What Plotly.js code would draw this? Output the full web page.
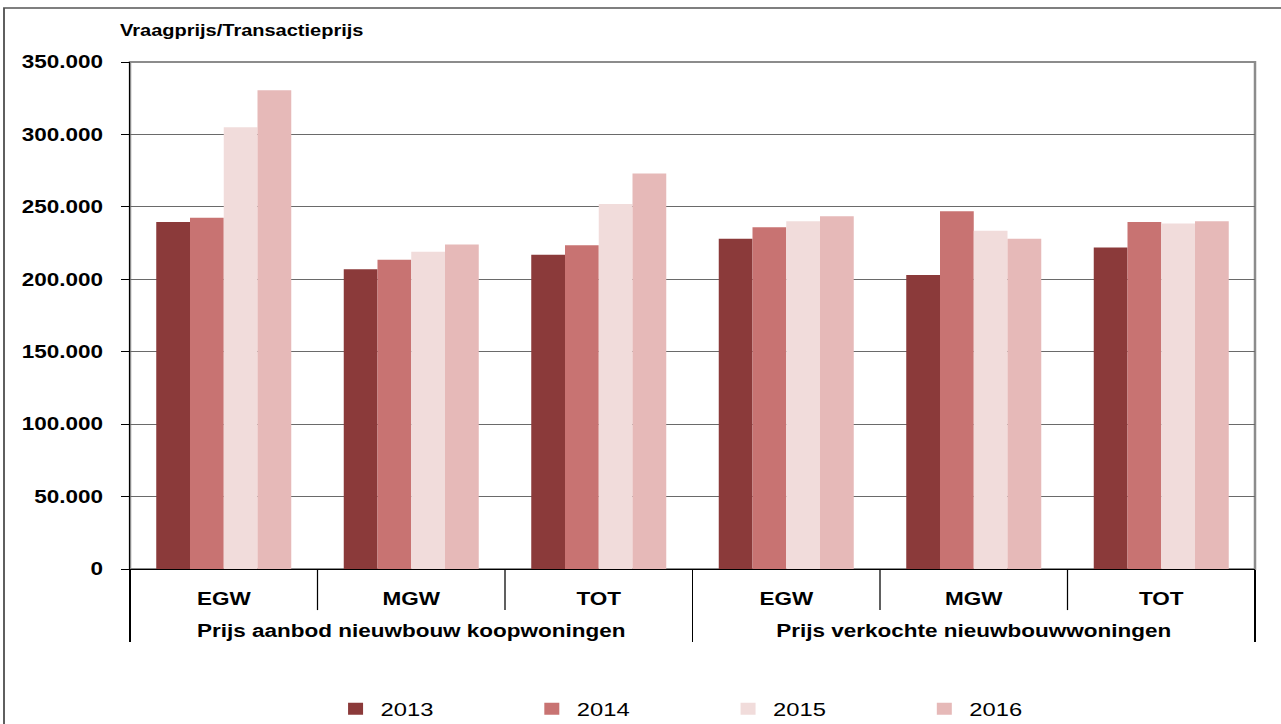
<!DOCTYPE html>
<html>
<head>
<meta charset="utf-8">
<script src="https://cdn.plot.ly/plotly-3.0.1.min.js"></script>
<style>
  html, body { margin: 0; padding: 0; background: #fff; overflow: hidden; }
  #chart { width: 1025px; height: 724px; transform: scaleX(1.25); transform-origin: 0 0; }
</style>
</head>
<body>
<div id="chart"></div>
<script>
// ---- data ----
const groups = [
  "Prijs aanbod nieuwbouw koopwoningen", "Prijs aanbod nieuwbouw koopwoningen", "Prijs aanbod nieuwbouw koopwoningen",
  "Prijs verkochte nieuwbouwwoningen", "Prijs verkochte nieuwbouwwoningen", "Prijs verkochte nieuwbouwwoningen"
];
const types = ["EGW", "MGW", "TOT", "EGW", "MGW", "TOT"];
const years = ["2013", "2014", "2015", "2016"];
const v2013 = [239500, 207000, 217000, 228000, 203000, 222000];
const v2014 = [242500, 213500, 223500, 236000, 247000, 239500];
const v2015 = [305000, 219000, 252000, 240000, 233500, 238500];
const v2016 = [330500, 224000, 273000, 243500, 228000, 240000];
const yTicks = [0, 50000, 100000, 150000, 200000, 250000, 300000, 350000];
const yTitle = "Vraagprijs/Transactieprijs";

const colors = ["#8B3A3A", "#C87372", "#F1DCDB", "#E6B9B8"];
const series = [v2013, v2014, v2015, v2016];
const FONT = "Liberation Sans, Arial, sans-serif";

// group labels get a leading line break so they sit lower, as in the reference
const groupLabels = groups.map(g => "<br>" + g);

const traces = series.map((vals, i) => ({
  type: "bar",
  name: years[i],
  x: [groupLabels, types],
  y: vals,
  marker: { color: colors[i], line: { width: 0 } },
  hoverinfo: "y+name"
}));

// subcategory separators (between categories inside a group)
const sepShapes = [0.5, 1.5, 3.5, 4.5].map(p => ({
  type: "line", xref: "x", yref: "paper",
  x0: p, x1: p, y0: 0, y1: -0.081,
  line: { color: "#000", width: 1 }
}));

const layout = {
  width: 1025, height: 724,
  margin: { l: 104, r: 21, t: 62, b: 155 },
  paper_bgcolor: "#fff", plot_bgcolor: "#fff",
  separators: ",.",
  font: { family: FONT, color: "#000" },
  barmode: "group",
  bargap: 0.28,
  bargroupgap: 0,
  showlegend: true,
  legend: {
    orientation: "h",
    xref: "container", yref: "container",
    x: 0.258, y: 0.021, xanchor: "left", yanchor: "middle",
    entrywidth: 112, entrywidthmode: "pixels",
    font: { family: FONT, size: 19, color: "#000" },
    itemclick: false, itemdoubleclick: false,
    traceorder: "normal"
  },
  xaxis: {
    type: "multicategory",
    showline: true, linecolor: "#000", linewidth: 1,
    ticks: "",
    ticklabelstandoff: 13,
    showdividers: true, dividercolor: "#000", dividerwidth: 1,
    tickfont: { family: FONT, size: 18, color: "#000", weight: "bold" },
    showgrid: false, zeroline: false,
    fixedrange: true
  },
  yaxis: {
    range: [0, 350000],
    tickvals: yTicks,
    tickformat: ",d",
    showline: true, linecolor: "#000", linewidth: 1,
    ticks: "outside", ticklen: 6, tickcolor: "#000", tickwidth: 1,
    ticklabelstandoff: 11,
    showgrid: true, gridcolor: "#6a6a6a", gridwidth: 1,
    zeroline: false,
    tickfont: { family: FONT, size: 18, color: "#000", weight: "bold" },
    fixedrange: true
  },
  shapes: [
    // plot area frame (top/right grey)
    { type: "rect", xref: "paper", yref: "paper", x0: 0, x1: 1, y0: 0, y1: 1,
      line: { color: "#8c8c8c", width: 2 }, layer: "below" },
    // outer chart border
    { type: "rect", xref: "paper", yref: "paper", x0: -0.1120, x1: 1.5, y0: -0.5, y1: 1.1065,
      line: { color: "#555", width: 1.5 }, layer: "below" }
  ].concat(sepShapes),
  annotations: [
    { text: yTitle, xref: "paper", yref: "paper", x: -0.0107, y: 1.063,
      xanchor: "left", yanchor: "middle", showarrow: false,
      font: { family: FONT, size: 16, color: "#000", weight: "bold" } }
  ]
};

Plotly.newPlot("chart", traces, layout, { displayModeBar: false, staticPlot: true });
</script>
</body>
</html>
